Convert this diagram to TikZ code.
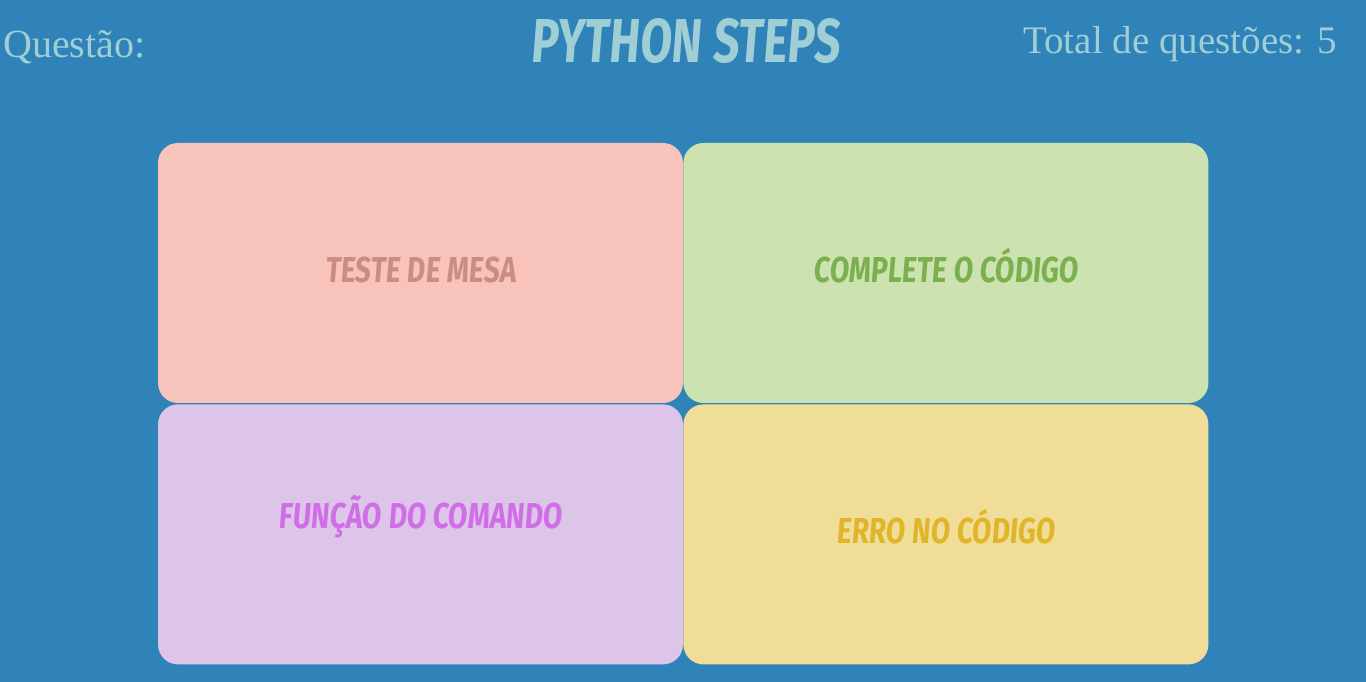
\documentclass[tikz,border=0pt]{standalone}
\usepackage{fontspec}
\usepackage{xcolor}
\usetikzlibrary{positioning}
\setmainfont{Liberation Serif}
\newfontfamily\brushfont[FakeStretch=0.74,FakeSlant=0.08]{Fira Sans Bold}
\newfontfamily\cardfont[FakeStretch=0.78,FakeSlant=0.08]{Fira Sans Bold}
\definecolor{bgblue}{HTML}{2F83B9}
\definecolor{headtxt}{HTML}{9FCFD4}
\definecolor{pinkfill}{HTML}{F8C3BB}
\definecolor{pinktxt}{HTML}{C98D86}
\definecolor{greenfill}{HTML}{CCE3B1}
\definecolor{greentxt}{HTML}{7CB04E}
\definecolor{lilacfill}{HTML}{DDC5E9}
\definecolor{lilactxt}{HTML}{CF6EE6}
\definecolor{yellowfill}{HTML}{F0DE98}
\definecolor{yellowtxt}{HTML}{E0B52A}
\tikzset{%
	card/.style      = {rectangle, rounded corners=20pt, minimum width=525pt, minimum height=260pt, inner sep=0pt},
	cardlabel/.style = {anchor=base, inner sep=0pt, font=\cardfont\fontsize{36}{40}\selectfont},
	headline/.style  = {anchor=base, inner sep=0pt, text=headtxt, font=\fontsize{40}{44}\selectfont},
}
\begin{document}
\begin{tikzpicture}[x=1pt,y=1pt]
		\fill[bgblue] (0,0) rectangle (1366,682);  % background
		\useasboundingbox (0,0) rectangle (1366,682);
		\node[headline,anchor=base west] (questao) at (3,624) {Questão:};
		\node[headline,anchor=base east,font=\fontsize{39}{44}\selectfont] (total) at (1337,628) {Total de questões: 5};
		\node[headline,font=\brushfont\fontsize{62}{68}\selectfont] (title) at (685,619) {PYTHON STEPS};
		\node[card,fill=pinkfill] (teste) at (420.5,409) {};
		\node[card,fill=greenfill,right=0pt of teste] (complete) {};
		\node[card,fill=lilacfill,below=1pt of teste] (funcao) {};
		\node[card,fill=yellowfill,right=0pt of funcao] (erro) {};
		\node[cardlabel,text=pinktxt] (testeLbl) at ([yshift=-10pt]teste.center) {TESTE DE MESA};
		\node[cardlabel,text=greentxt] (completeLbl) at ([yshift=-10pt]complete.center) {COMPLETE O CÓDIGO};
		\node[cardlabel,text=lilactxt] (funcaoLbl) at ([yshift=5.5pt]funcao.center) {FUNÇÃO DO COMANDO};
		\node[cardlabel,text=yellowtxt] (erroLbl) at ([yshift=-9.5pt]erro.center) {ERRO NO CÓDIGO};
		\end{tikzpicture}
\end{document}
